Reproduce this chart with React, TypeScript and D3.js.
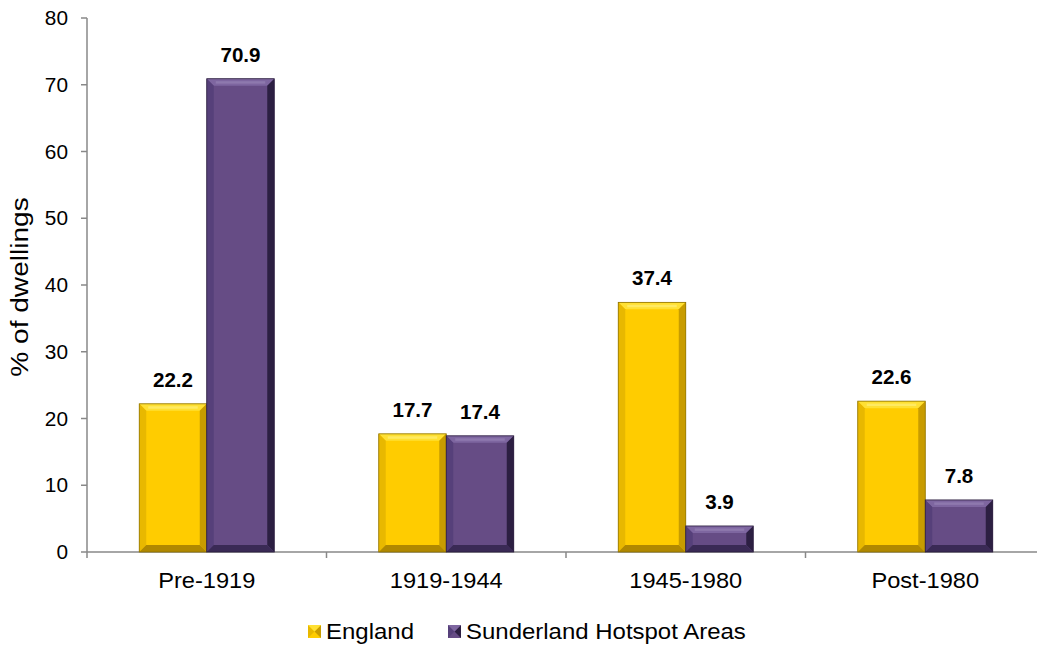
import React from "react";
import * as d3 from "d3";

const categories = ["Pre-1919", "1919-1944", "1945-1980", "Post-1980"];
const seriesNames = ["England", "Sunderland Hotspot Areas"];
const england = [22.2, 17.7, 37.4, 22.6];
const sunderland = [70.9, 17.4, 3.9, 7.8];
const yTicks = [0, 10, 20, 30, 40, 50, 60, 70, 80];

const W = 1037, H = 646;
const left = 87, right = 1045, top = 18, bottom = 552;
const FONT = "'Liberation Sans', Arial, Helvetica, sans-serif";

const palettes = [
  { face: "#FFCC00", top: "#FFE033", hi: "#FFF080", left: "#E8B800", right: "#C89C00", bottom: "#B08800", stroke: "#8C7000" },
  { face: "#664C85", top: "#7E66A0", hi: "#9A86B8", left: "#56407A", right: "#2C1F42", bottom: "#3A2A55", stroke: "#2A1D3C" },
];

function Bar({ x, y, w, h, p }: { x: number; y: number; w: number; h: number; p: any }) {
  const b = Math.min(7, h / 2.2);
  const x2 = x + w, y2 = y + h;
  return (
    <g>
      <rect x={x} y={y} width={w} height={h} fill={p.face} />
      <polygon points={`${x},${y} ${x2},${y} ${x2 - b},${y + b} ${x + b},${y + b}`} fill={p.top} />
      <polygon points={`${x},${y} ${x + b},${y + b} ${x + b},${y2 - b} ${x},${y2}`} fill={p.left} />
      <polygon points={`${x2},${y} ${x2},${y2} ${x2 - b},${y2 - b} ${x2 - b},${y + b}`} fill={p.right} />
      <polygon points={`${x},${y2} ${x + b},${y2 - b} ${x2 - b},${y2 - b} ${x2},${y2}`} fill={p.bottom} />
      <rect x={x + b + 2} y={y + b * 0.35} width={Math.max(0, w - 2 * b - 4)} height={b * 0.35} fill={p.hi} opacity={0.6} />
      <rect x={x} y={y} width={w} height={h} fill="none" stroke={p.stroke} strokeWidth={0.8} />
    </g>
  );
}

function SText({ x, y, sx = 1, children, ...rest }: any) {
  return (
    <text transform={`translate(${x},${y}) scale(${sx},1)`} {...rest}>{children}</text>
  );
}

export default function App() {
  const y = d3.scaleLinear().domain([0, 80]).range([bottom, top]);
  const bandStep = (right - left) / categories.length;
  const barW = 67.5;
  const data = [england, sunderland];

  return (
    <svg width={W} height={H} style={{ position: "absolute", left: 0, top: 0, background: "#fff" }} fontFamily={FONT}>
      {/* y axis */}
      <line x1={left} x2={left} y1={y(80)} y2={bottom} stroke="#888" strokeWidth={1.5} />
      {yTicks.map((t) => (
        <g key={t}>
          <line x1={left - 6} x2={left} y1={y(t)} y2={y(t)} stroke="#888" strokeWidth={1.5} />
          <SText x={68} y={y(t)} sx={1.04} dy="0.35em" textAnchor="end" fontSize={20} fill="#000">{t}</SText>
        </g>
      ))}
      <text transform={`translate(28,287) rotate(-90) scale(1.17,1)`} textAnchor="middle" fontSize={24} fill="#000">% of dwellings</text>
      {/* x axis */}
      <line x1={left} x2={W} y1={bottom} y2={bottom} stroke="#888" strokeWidth={1.5} />
      {categories.map((c, i) => (
        <line key={c} x1={left + bandStep * i} x2={left + bandStep * i} y1={bottom} y2={bottom + 6} stroke="#888" strokeWidth={1.5} />
      ))}
      {categories.map((c, i) => {
        const cx = left + bandStep * (i + 0.5);
        return (
          <g key={c}>
            {data.map((vals, s) => {
              const v = vals[i];
              const bx = cx - barW + s * barW;
              return (
                <g key={s}>
                  <Bar x={bx} y={y(v)} w={barW} h={bottom - y(v)} p={palettes[s]} />
                  <SText x={bx + barW / 2} y={y(v) - 17} sx={1.03} textAnchor="middle" fontSize={20} fontWeight="bold" fill="#000">{v.toFixed(1)}</SText>
                </g>
              );
            })}
            <SText x={cx} y={588} sx={1.05} textAnchor="middle" fontSize={22.5} fill="#000">{c}</SText>
          </g>
        );
      })}
      {/* legend */}
      {seriesNames.map((n, s) => {
        const lx = s === 0 ? 308 : 448;
        const p = palettes[s];
        return (
          <g key={n}>
            <rect x={lx} y={625} width={13} height={13} fill={p.face} />
            <polygon points={`${lx},${625} ${lx + 6.5},${631.5} ${lx},${638}`} fill={p.left} />
            <polygon points={`${lx + 13},${625} ${lx + 6.5},${631.5} ${lx + 13},${638}`} fill={p.right} />
            <polygon points={`${lx},${625} ${lx + 13},${625} ${lx + 6.5},${631.5}`} fill={p.top} />
            <SText x={lx + 18} y={639} sx={1.09} fontSize={22} fill="#000">{n}</SText>
          </g>
        );
      })}
    </svg>
  );
}
